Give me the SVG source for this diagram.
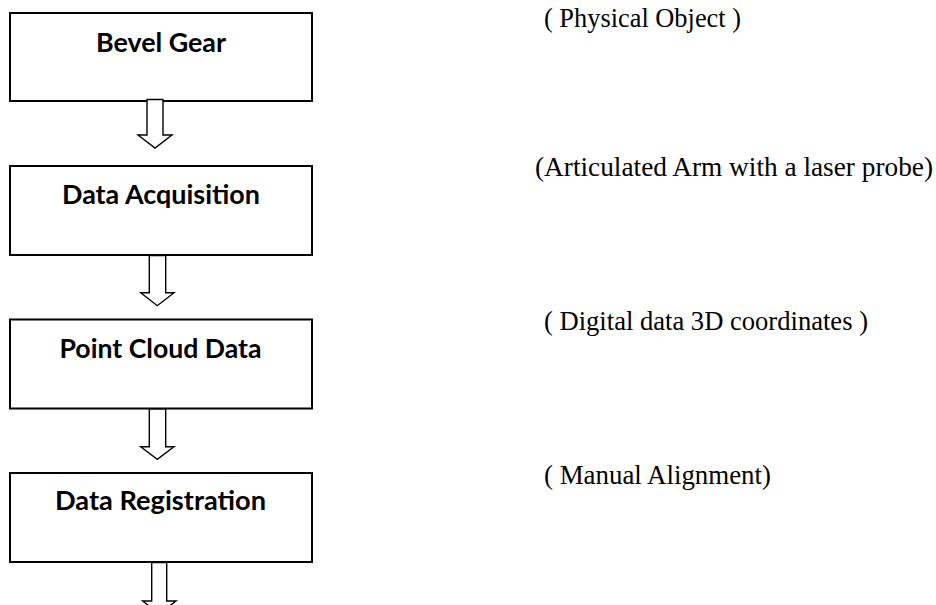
<svg xmlns="http://www.w3.org/2000/svg" width="936" height="605" viewBox="0 0 936 605">
  <style>
    .box { fill: #ffffff; stroke: #000000; stroke-width: 2; }
    .label { font-family: Lato, "Liberation Sans", sans-serif; font-weight: bold; font-size: 26px; fill: #000000; text-anchor: middle; }
    .note { font-family: "Liberation Serif", "Times New Roman", serif; font-size: 27px; fill: #000000; }
    .flow { fill: #ffffff; stroke: #000000; stroke-width: 1.4; stroke-linejoin: miter; }
  </style>
  <rect width="936" height="605" fill="#ffffff"/>

  <!-- process steps -->
  <g id="bevel-gear">
    <rect class="box" x="10" y="13" width="302" height="88"/>
    <text class="label" x="161" y="52" textLength="130" lengthAdjust="spacingAndGlyphs">Bevel Gear</text>
  </g>
  <g id="data-acquisition">
    <rect class="box" x="10" y="166" width="302" height="89"/>
    <text class="label" x="161" y="204" textLength="198" lengthAdjust="spacingAndGlyphs">Data Acquisition</text>
  </g>
  <g id="point-cloud-data">
    <rect class="box" x="10" y="319.5" width="302" height="89"/>
    <text class="label" x="160.5" y="358" textLength="202" lengthAdjust="spacingAndGlyphs">Point Cloud Data</text>
  </g>
  <g id="data-registration">
    <rect class="box" x="10" y="473" width="302" height="89"/>
    <text class="label" x="160.5" y="509.5" textLength="211" lengthAdjust="spacingAndGlyphs">Data Registration</text>
  </g>

  <!-- block arrows between steps -->
  <g id="connectors">
    <polygon class="flow" points="147,99.5 163,99.5 163,135 172,135 155,148 138,135 147,135"/>
    <polygon class="flow" points="149.3,255.5 165.7,255.5 165.7,292.7 174,292.7 157.3,305.7 140.7,292.7 149.3,292.7"/>
    <polygon class="flow" points="149.3,409 165.7,409 165.7,446.7 174,446.7 157.3,459.3 140.7,446.7 149.3,446.7"/>
    <polygon class="flow" points="151.7,562.5 166.7,562.5 166.7,601 176,601 159.3,614 142.7,601 151.7,601"/>
  </g>

  <!-- annotations -->
  <g id="notes">
    <text class="note" x="544" y="27" textLength="197" lengthAdjust="spacingAndGlyphs">( Physical Object )</text>
    <text class="note" x="535" y="176" textLength="398" lengthAdjust="spacingAndGlyphs">(Articulated Arm with a laser probe)</text>
    <text class="note" x="544" y="330" textLength="324" lengthAdjust="spacingAndGlyphs">( Digital data 3D coordinates )</text>
    <text class="note" x="544" y="484" textLength="227" lengthAdjust="spacingAndGlyphs">( Manual Alignment)</text>
  </g>
</svg>
